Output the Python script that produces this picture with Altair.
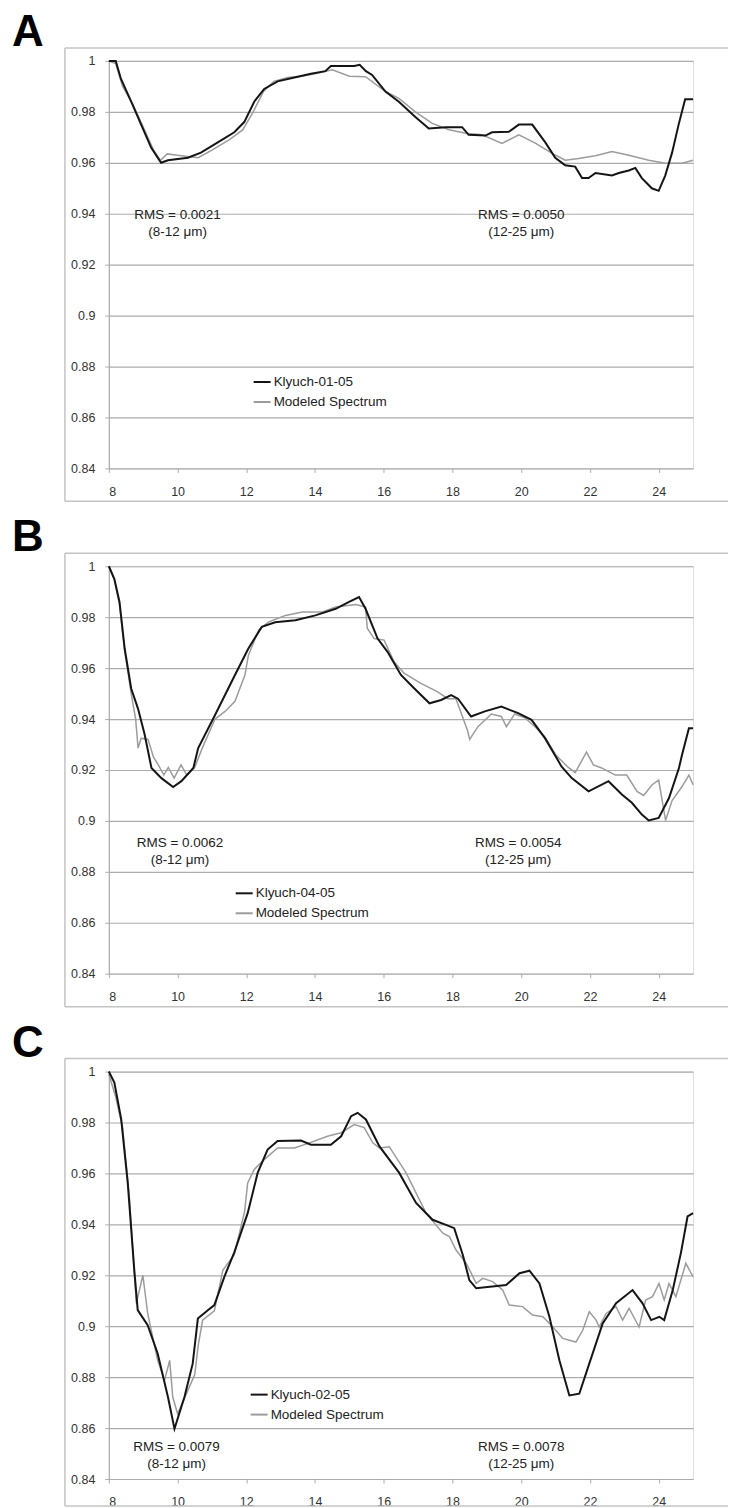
import altair as alt
import pandas as pd

# ---------------- data ----------------
X_DOMAIN = [8, 25]
Y_DOMAIN = [0.84, 1.0]
X_TICKS = [8, 10, 12, 14, 16, 18, 20, 22, 24]
Y_TICKS = [0.84, 0.86, 0.88, 0.9, 0.92, 0.94, 0.96, 0.98, 1.0]

PANEL_LETTERS = ["A", "B", "C"]
SAMPLE_NAMES = ["Klyuch-01-05", "Klyuch-04-05", "Klyuch-02-05"]
MODEL_NAME = "Modeled Spectrum"
RMS_LOW = ["RMS = 0.0021", "RMS = 0.0062", "RMS = 0.0079"]
RMS_HIGH = ["RMS = 0.0050", "RMS = 0.0054", "RMS = 0.0078"]
RANGE_LOW = "(8-12 \u03bcm)"
RANGE_HIGH = "(12-25 \u03bcm)"
RMS_X_LOW = [10.0, 10.07, 9.97]
RMS_X_HIGH = [20.0, 19.91, 20.0]
RMS_Y = [0.9395, 0.8914, 0.8525]

# Panel A
A_meas_x = [8.0, 8.2, 8.35, 8.65, 8.94, 9.23, 9.52, 9.72, 10.3, 10.68, 11.17, 11.65, 11.94, 12.23, 12.52,
            12.91, 13.4, 13.88, 14.3, 14.46, 15.14, 15.3, 15.48, 15.66, 16.05, 16.44, 16.92, 17.31, 17.8,
            18.28, 18.47, 18.96, 19.15, 19.64, 19.93, 20.32, 20.7, 20.99, 21.28, 21.57, 21.77, 21.96, 22.16,
            22.64, 22.84, 23.13, 23.32, 23.51, 23.8, 24.0, 24.19, 24.39, 24.58, 24.77, 25.0]
A_meas_y = [1.0, 1.0, 0.993, 0.984, 0.975, 0.966, 0.960, 0.961, 0.962, 0.964, 0.968, 0.972, 0.976, 0.984, 0.989,
            0.992, 0.9935, 0.995, 0.996, 0.998, 0.998, 0.9985, 0.996, 0.9945, 0.988, 0.984, 0.978, 0.9735, 0.974,
            0.974, 0.971, 0.9707, 0.972, 0.9722, 0.975, 0.975, 0.968, 0.962, 0.959, 0.9585, 0.954, 0.954, 0.956,
            0.955, 0.956, 0.957, 0.958, 0.954, 0.950, 0.949, 0.955, 0.964, 0.975, 0.985, 0.985]
A_model_x = [8.0, 8.2, 8.4, 8.7, 9.0, 9.3, 9.5, 9.7, 10.0, 10.3, 10.6, 11.0, 11.5, 11.9, 12.2, 12.5, 12.8,
             13.2, 13.6, 14.0, 14.5, 15.0, 15.47, 16.05, 16.44, 16.92, 17.41, 17.9, 18.38, 18.86, 19.44,
             19.93, 20.41, 20.9, 21.28, 21.67, 22.16, 22.64, 23.13, 23.71, 24.19, 24.68, 25.0]
A_model_y = [1.0, 0.999, 0.990, 0.983, 0.974, 0.965, 0.961, 0.9635, 0.963, 0.9625, 0.962, 0.965, 0.969, 0.973,
             0.980, 0.988, 0.992, 0.9935, 0.994, 0.995, 0.9965, 0.994, 0.9938, 0.988, 0.9853, 0.980, 0.9755,
             0.973, 0.9716, 0.971, 0.9676, 0.971, 0.9677, 0.9637, 0.961, 0.9617, 0.9628, 0.9644, 0.963, 0.961,
             0.9598, 0.9598, 0.961]

# Panel B
B_meas_x = [8.0, 8.16, 8.31, 8.46, 8.65, 8.85, 9.04, 9.24, 9.53, 9.87, 10.11, 10.46, 10.6, 11.09, 11.67, 12.06,
            12.45, 12.84, 13.43, 14.01, 14.6, 14.99, 15.28, 15.47, 15.82, 16.11, 16.5, 16.89, 17.33, 17.67,
            17.96, 18.16, 18.54, 18.94, 19.42, 19.91, 20.3, 20.69, 21.03, 21.17, 21.47, 21.96, 22.54, 22.93,
            23.22, 23.51, 23.71, 24.0, 24.3, 24.59, 24.68, 24.88, 25.0]
B_meas_y = [1.0, 0.995, 0.986, 0.9677, 0.952, 0.944, 0.934, 0.9208, 0.9168, 0.9133, 0.9156, 0.9208, 0.9286,
            0.9416, 0.9573, 0.9677, 0.9762, 0.978, 0.9788, 0.9807, 0.9833, 0.986, 0.9879, 0.9833, 0.9716,
            0.9664, 0.9573, 0.952, 0.9462, 0.9475, 0.9494, 0.948, 0.941, 0.943, 0.9449, 0.9423, 0.9397, 0.9325,
            0.9247, 0.9214, 0.9168, 0.9116, 0.9156, 0.9104, 0.9071, 0.9025, 0.9002, 0.9012, 0.909, 0.9208,
            0.926, 0.9364, 0.9364]
B_model_x = [8.0, 8.16, 8.31, 8.46, 8.65, 8.78, 8.85, 8.94, 9.14, 9.3, 9.44, 9.6, 9.73, 9.9, 10.1, 10.27, 10.5,
             10.7, 11.09, 11.38, 11.67, 11.96, 12.06, 12.36, 12.65, 13.14, 13.63, 14.2, 14.6, 15.19, 15.47,
             15.52, 15.72, 16.01, 16.3, 16.59, 17.08, 17.57, 17.86, 18.1, 18.44, 18.5, 18.74, 19.13, 19.42,
             19.57, 19.81, 20.1, 20.4, 20.69, 21.0, 21.37, 21.57, 21.9, 22.1, 22.34, 22.74, 23.07, 23.37,
             23.56, 23.81, 24.0, 24.2, 24.39, 24.68, 24.88, 25.0]
B_model_y = [1.0, 0.995, 0.985, 0.967, 0.950, 0.940, 0.9286, 0.9325, 0.932, 0.925, 0.922, 0.918, 0.921, 0.9168,
             0.922, 0.918, 0.921, 0.928, 0.940, 0.943, 0.947, 0.9573, 0.965, 0.975, 0.9781, 0.9807, 0.982,
             0.982, 0.984, 0.985, 0.984, 0.9757, 0.9716, 0.971, 0.9625, 0.958, 0.954, 0.9507, 0.948, 0.948,
             0.9354, 0.932, 0.937, 0.942, 0.941, 0.937, 0.942, 0.9405, 0.937, 0.933, 0.926, 0.921, 0.919,
             0.927, 0.922, 0.9208, 0.918, 0.918, 0.9116, 0.910, 0.9142, 0.916, 0.9002, 0.908, 0.9135, 0.918,
             0.9142]

# Panel C
C_meas_x = [8.0, 8.16, 8.36, 8.55, 8.74, 8.84, 9.13, 9.42, 9.72, 9.91, 10.2, 10.44, 10.59, 10.88, 11.07, 11.36,
            11.65, 12.04, 12.33, 12.62, 12.91, 13.59, 13.88, 14.46, 14.76, 15.05, 15.24, 15.48, 15.87, 16.45,
            16.94, 17.42, 17.81, 18.05, 18.3, 18.49, 18.69, 19.56, 19.95, 20.24, 20.53, 20.82, 21.11, 21.4,
            21.69, 21.98, 22.37, 22.76, 23.24, 23.53, 23.78, 24.02, 24.16, 24.41, 24.65, 24.84, 25.0]
C_meas_y = [1.0, 0.9957, 0.9812, 0.9563, 0.922, 0.9063, 0.9004, 0.8893, 0.8722, 0.8597, 0.8722, 0.8853, 0.903,
            0.9063, 0.9083, 0.9194, 0.929, 0.9444, 0.9602, 0.9694, 0.9727, 0.9729, 0.9713, 0.9713, 0.9746,
            0.9825, 0.9838, 0.9812, 0.9707, 0.9602, 0.9484, 0.9418, 0.9398, 0.9385, 0.928, 0.9181, 0.9149,
            0.9162, 0.9208, 0.9218, 0.9168, 0.9037, 0.8866, 0.8728, 0.8735, 0.8853, 0.9011, 0.909, 0.9142,
            0.909, 0.9024, 0.9037, 0.9024, 0.9142, 0.929, 0.9431, 0.9444]
C_model_x = [8.0, 8.2, 8.4, 8.6, 8.8, 8.99, 9.13, 9.42, 9.62, 9.77, 9.86, 10.0, 10.3, 10.5, 10.6, 10.73, 11.07,
             11.32, 11.65, 11.95, 12.04, 12.23, 12.52, 12.91, 13.4, 13.78, 14.36, 14.76, 15.14, 15.43, 15.68,
             15.87, 16.16, 16.65, 17.23, 17.72, 17.91, 18.1, 18.4, 18.69, 18.88, 19.17, 19.46, 19.65, 20.04,
             20.33, 20.63, 20.92, 21.21, 21.59, 21.79, 21.98, 22.18, 22.27, 22.47, 22.76, 22.95, 23.14, 23.43,
             23.62, 23.82, 24.01, 24.16, 24.3, 24.5, 24.79, 25.0]
C_model_y = [0.999, 0.99, 0.978, 0.95, 0.909, 0.920, 0.905, 0.8866, 0.8787, 0.8866, 0.8722, 0.8656, 0.8748,
             0.881, 0.8925, 0.9024, 0.906, 0.9221, 0.9281, 0.945, 0.9563, 0.9616, 0.9654, 0.970, 0.970, 0.9717,
             0.9746, 0.976, 0.9792, 0.978, 0.972, 0.970, 0.9705, 0.9602, 0.9444, 0.9365, 0.9352, 0.930, 0.9247,
             0.9168, 0.9188, 0.9175, 0.9142, 0.9083, 0.9077, 0.9044, 0.9037, 0.8997, 0.8952, 0.8938, 0.8984,
             0.9057, 0.9024, 0.8997, 0.905, 0.9077, 0.9024, 0.907, 0.8997, 0.9103, 0.9116, 0.9168, 0.9103,
             0.9168, 0.9116, 0.9247, 0.9194]

MEAS = [(A_meas_x, A_meas_y), (B_meas_x, B_meas_y), (C_meas_x, C_meas_y)]
MODEL = [(A_model_x, A_model_y), (B_model_x, B_model_y), (C_model_x, C_model_y)]

# ---------------- style ----------------
W, H = 585, 408
FONT = "Liberation Sans"
BLACK, GRAY = "#151515", "#9c9c9c"
GRID = "#acacac"
FRAME = "#c4c4c4"
LEGEND_POS = [(144, 312), (126, 318), (141, 314)]
FRAME_BOTTOM = [441, 441, 435]


def panel(i):
    name = SAMPLE_NAMES[i]
    rows = []
    for xv, yv in zip(*MEAS[i]):
        rows.append({"x": xv, "y": yv, "series": name})
    for xv, yv in zip(*MODEL[i]):
        rows.append({"x": xv, "y": yv, "series": MODEL_NAME})
    df = pd.DataFrame(rows)

    one = pd.DataFrame({"k": [0]})

    x_enc = alt.X("x:Q", scale=alt.Scale(domain=X_DOMAIN, nice=False, zero=False),
                  axis=alt.Axis(values=X_TICKS, format="d", title=None, grid=False, domain=False,
                                tickColor=GRID, tickSize=4, labelPadding=13, labelFontSize=12.5,
                                labelColor="#333", labelFont=FONT))
    y_enc = alt.Y("y:Q", scale=alt.Scale(domain=Y_DOMAIN, nice=False, zero=False),
                  axis=alt.Axis(values=Y_TICKS, format="~g", title=None, grid=True, gridColor=GRID,
                                gridWidth=1.2, domainColor=GRID, domainWidth=1.2, tickColor=GRID,
                                tickSize=4, labelPadding=10, labelFontSize=12.5, labelColor="#333",
                                labelFont=FONT))
    lx, ly = LEGEND_POS[i]
    color = alt.Color("series:N",
                      scale=alt.Scale(domain=[name, MODEL_NAME], range=[BLACK, GRAY]),
                      legend=alt.Legend(title=None, orient="none", legendX=lx, legendY=ly,
                                        symbolType="stroke", symbolSize=289, symbolStrokeWidth=2,
                                        labelFontSize=13.5, labelFont=FONT, labelColor="#222",
                                        labelOffset=2, rowPadding=4, padding=0))

    model_line = alt.Chart(df).transform_filter(alt.datum.series == MODEL_NAME).mark_line(
        strokeWidth=1.5).encode(x=x_enc, y=y_enc, color=color)
    meas_line = alt.Chart(df).transform_filter(alt.datum.series == name).mark_line(
        strokeWidth=2).encode(x=x_enc, y=y_enc, color=color)

    fb = FRAME_BOTTOM[i]
    frame_top = alt.Chart(one).mark_rule(color=FRAME, strokeWidth=1.5).encode(
        x=alt.value(-44), x2=alt.value(620), y=alt.value(-13))
    frame_left = alt.Chart(one).mark_rule(color=FRAME, strokeWidth=1.5).encode(
        x=alt.value(-44), y=alt.value(-13), y2=alt.value(fb))
    frame_bottom = alt.Chart(one).mark_rule(color=FRAME, strokeWidth=1.5).encode(
        x=alt.value(-44), x2=alt.value(620), y=alt.value(fb))

    letter = alt.Chart(one).mark_text(text=PANEL_LETTERS[i], fontSize=44, fontWeight="bold",
                                      font=FONT, align="left", baseline="alphabetic",
                                      color="#000").encode(x=alt.value(-97), y=alt.value(-15))

    ann = pd.DataFrame({
        "x": [RMS_X_LOW[i], RMS_X_HIGH[i]],
        "y": [RMS_Y[i], RMS_Y[i]],
        "l1": [RMS_LOW[i], RMS_HIGH[i]],
        "l2": [RANGE_LOW, RANGE_HIGH],
    })
    xs = alt.X("x:Q", scale=alt.Scale(domain=X_DOMAIN, nice=False, zero=False))
    ys = alt.Y("y:Q", scale=alt.Scale(domain=Y_DOMAIN, nice=False, zero=False))
    t1 = alt.Chart(ann).mark_text(fontSize=13.5, font=FONT, color="#222", align="center",
                                  baseline="middle").encode(x=xs, y=ys, text="l1:N")
    t2 = alt.Chart(ann).mark_text(fontSize=13.5, font=FONT, color="#222", align="center",
                                  baseline="middle", dy=17).encode(x=xs, y=ys, text="l2:N")

    return alt.layer(frame_top, frame_left, frame_bottom, letter, model_line, meas_line, t1, t2
                     ).properties(width=W, height=H)


chart = alt.vconcat(panel(0), panel(1), panel(2), spacing=98, bounds="flush",
                    padding={"left": 11, "top": 9, "right": 0, "bottom": 0}
                    ).resolve_scale(color="independent").configure_view(stroke=None
                    ).configure(background="white")

chart.save("out.html", embed_options={"renderer": "svg", "actions": False})
